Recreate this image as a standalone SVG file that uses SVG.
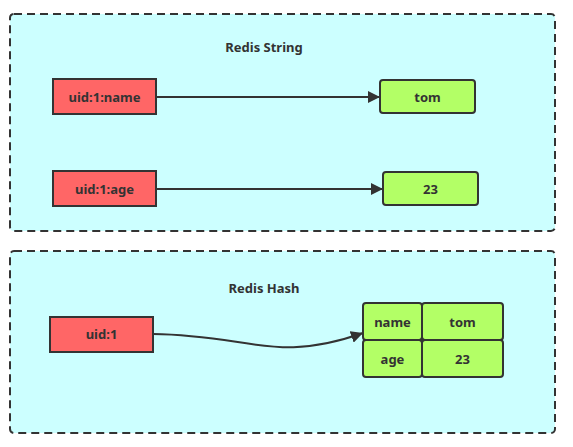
<svg xmlns="http://www.w3.org/2000/svg" width="573" height="447" viewBox="0 0 573 447">
<style>
.cont{fill:#CCFFFF;stroke:#333333;stroke-width:2;stroke-dasharray:8 5}
.key{fill:#FF6666;stroke:#333333;stroke-width:2}
.val{fill:#B3FF66;stroke:#333333;stroke-width:2}
.t{font-family:"Noto Sans","Open Sans",sans-serif;font-weight:bold;font-size:13px;fill:#333333;text-anchor:middle;dominant-baseline:central}
.edge{fill:none;stroke:#333333;stroke-width:2}
</style>
<defs>
<marker id="arr" viewBox="0 0 10 10" refX="10" refY="5" markerWidth="6" markerHeight="6" orient="auto" markerUnits="strokeWidth">
<path d="M0,0 L10,5 L0,10 z" fill="#333333"/>
</marker>
</defs>
<rect width="573" height="447" fill="#ffffff"/>
<g id="string-group">
<rect class="cont" x="10" y="14" width="545" height="217" rx="4"/>
<text class="t" x="264" y="47">Redis String</text>
</g>
<g id="hash-group">
<rect class="cont" x="10" y="251" width="545" height="182" rx="4"/>
<text class="t" x="264" y="288">Redis Hash</text>
</g>
<g id="uid1name"><rect class="key" x="53" y="79" width="103" height="35"/><text class="t" x="104.5" y="97">uid:1:name</text></g>
<g id="uid1age"><rect class="key" x="53" y="171" width="103" height="35"/><text class="t" x="104.5" y="189">uid:1:age</text></g>
<g id="tom"><rect class="val" x="380" y="80" width="95" height="33" rx="3"/><text class="t" x="427.5" y="97">tom</text></g>
<g id="v23"><rect class="val" x="383" y="172" width="95" height="33" rx="3"/><text class="t" x="430.5" y="189">23</text></g>
<g id="uid1"><rect class="key" x="50" y="317" width="103" height="35"/><text class="t" x="101.5" y="334">uid:1</text></g>
<g id="hash">
<rect class="val" x="363" y="303" width="59" height="37" rx="3"/><text class="t" x="392.5" y="322">name</text>
<rect class="val" x="422" y="303" width="81" height="37" rx="3"/><text class="t" x="462.5" y="322">tom</text>
<rect class="val" x="363" y="340" width="59" height="37" rx="3"/><text class="t" x="392.5" y="359">age</text>
<rect class="val" x="422" y="340" width="81" height="37" rx="3"/><text class="t" x="462.5" y="359">23</text>
<circle cx="422" cy="340" r="2" fill="#333333"/>
</g>
<g id="connectors">
<path class="edge" d="M156,97 L380,97" marker-end="url(#arr)"/>
<path class="edge" d="M156,189 L383,189" marker-end="url(#arr)"/>
<path class="edge" d="M153,334 C250,335 275,364 363,333" marker-end="url(#arr)"/>
</g>
</svg>
